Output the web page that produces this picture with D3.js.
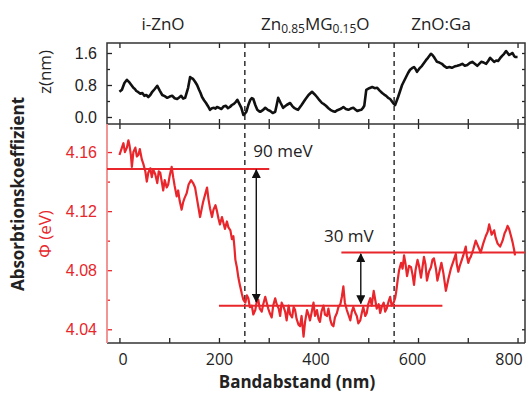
<!DOCTYPE html>
<html><head><meta charset="utf-8">
<script src="https://cdn.jsdelivr.net/npm/d3@7"></script>
<style>
html,body{margin:0;padding:0;background:#fff;}
svg{display:block;font-family:"Open Sans",sans-serif;}
</style></head>
<body>
<script>
// ---- data ----
// surface height z (nm) vs position (nm)
const topSeries = [[0,0.63],[5,0.68],[10,0.85],[15,0.93],[19,0.88],[22,0.83],[28,0.73],[31,0.70],[34,0.65],[38,0.62],[42,0.58],[46,0.60],[50,0.53],[54,0.55],[58,0.50],[62,0.55],[66,0.63],[71,0.70],[76,0.78],[81,0.66],[86,0.55],[91,0.52],[96,0.48],[101,0.51],[106,0.53],[111,0.47],[116,0.45],[120,0.49],[124,0.53],[128,0.46],[132,0.48],[138,0.73],[142,1.00],[145,0.97],[148,0.95],[152,0.88],[156,0.80],[160,0.68],[163,0.60],[166,0.50],[170,0.42],[174,0.35],[178,0.27],[182,0.18],[186,0.22],[190,0.23],[193,0.21],[196,0.25],[200,0.23],[205,0.20],[209,0.26],[214,0.28],[218,0.22],[222,0.25],[226,0.30],[230,0.33],[234,0.38],[237,0.43],[241,0.33],[245,0.23],[249,0.05],[252,0.08],[255,0.13],[259,0.30],[263,0.43],[266,0.47],[269,0.45],[273,0.30],[277,0.18],[280,0.15],[283,0.13],[288,0.17],[293,0.23],[298,0.18],[303,0.15],[308,0.10],[313,0.13],[316,0.30],[319,0.48],[324,0.35],[329,0.23],[336,0.30],[343,0.35],[347,0.28],[351,0.23],[355,0.20],[359,0.18],[366,0.30],[373,0.43],[380,0.55],[387,0.63],[392,0.57],[397,0.50],[402,0.42],[407,0.35],[411,0.32],[415,0.28],[420,0.22],[424,0.18],[428,0.15],[433,0.13],[438,0.17],[444,0.20],[447,0.22],[450,0.25],[455,0.20],[460,0.18],[465,0.21],[470,0.23],[474,0.19],[478,0.15],[482,0.17],[486,0.18],[489,0.22],[492,0.28],[496,0.68],[502,0.72],[508,0.75],[513,0.72],[518,0.73],[523,0.66],[528,0.60],[532,0.56],[536,0.53],[540,0.48],[544,0.45],[547,0.40],[550,0.35],[554,0.30],[557,0.40],[560,0.50],[564,0.65],[568,0.80],[572,0.90],[576,1.00],[580,1.10],[584,1.18],[588,1.22],[592,1.25],[595,1.20],[598,1.13],[601,1.18],[604,1.23],[608,1.28],[612,1.35],[616,1.42],[620,1.48],[623,1.53],[626,1.58],[629,1.55],[632,1.50],[635,1.44],[638,1.38],[643,1.36],[648,1.33],[653,1.27],[658,1.23],[663,1.25],[668,1.23],[673,1.26],[679,1.28],[684,1.30],[689,1.33],[694,1.28],[699,1.30],[704,1.35],[709,1.38],[714,1.33],[719,1.28],[723,1.33],[727,1.38],[732,1.36],[737,1.33],[741,1.40],[745,1.48],[749,1.43],[753,1.38],[757,1.41],[761,1.40],[765,1.47],[769,1.53],[773,1.58],[777,1.65],[780,1.60],[783,1.55],[787,1.58],[790,1.60],[793,1.53],[795,1.50],[800,1.50]];

// work function Phi (eV) vs position (nm)
const phiSeries = [[0,4.158],[4,4.162],[8,4.166],[11,4.160],[15,4.163],[18,4.168],[20,4.165],[23,4.158],[25,4.150],[28,4.160],[32,4.163],[35,4.157],[38,4.158],[41,4.162],[45,4.155],[48,4.152],[52,4.147],[55,4.140],[58,4.146],[62,4.149],[65,4.143],[68,4.148],[72,4.145],[76,4.139],[79,4.147],[82,4.146],[85,4.140],[88,4.134],[91,4.141],[95,4.136],[98,4.138],[101,4.144],[105,4.150],[108,4.143],[111,4.137],[115,4.130],[118,4.134],[121,4.127],[125,4.121],[128,4.126],[131,4.129],[135,4.132],[139,4.138],[144,4.141],[148,4.139],[152,4.136],[155,4.130],[158,4.124],[162,4.116],[165,4.121],[168,4.126],[172,4.131],[176,4.136],[179,4.128],[182,4.122],[186,4.116],[189,4.121],[193,4.124],[196,4.120],[199,4.115],[202,4.111],[206,4.116],[209,4.112],[212,4.108],[216,4.113],[219,4.109],[223,4.107],[226,4.101],[229,4.103],[231,4.096],[233,4.087],[236,4.082],[239,4.075],[242,4.070],[246,4.064],[249,4.060],
[253,4.058],[256,4.063],[259,4.061],[262,4.055],[266,4.056],[269,4.050],[273,4.053],[276,4.059],[279,4.060],[282,4.054],[286,4.052],[289,4.057],[293,4.062],[296,4.058],[299,4.054],[302,4.051],[306,4.048],[309,4.056],[313,4.061],[316,4.057],[320,4.054],[323,4.049],[326,4.058],[330,4.055],[333,4.052],[336,4.046],[340,4.056],[343,4.050],[347,4.048],[350,4.055],[353,4.053],[356,4.047],[360,4.043],[363,4.042],[366,4.049],[370,4.035],[373,4.045],[377,4.053],[380,4.050],[383,4.046],[386,4.051],[390,4.058],[393,4.049],[397,4.053],[400,4.047],[403,4.045],[406,4.052],[410,4.056],[413,4.050],[417,4.049],[420,4.054],[424,4.046],[427,4.043],[430,4.042],[433,4.048],[437,4.051],[440,4.055],[444,4.057],[447,4.062],[450,4.069],[453,4.058],[457,4.053],[460,4.050],[464,4.046],[467,4.052],[470,4.055],[474,4.051],[477,4.049],[480,4.044],[484,4.046],[487,4.051],[490,4.055],[494,4.049],[497,4.051],[500,4.057],[504,4.061],[507,4.056],[511,4.066],[514,4.060],[517,4.054],[521,4.057],[524,4.051],[527,4.055],[531,4.058],[534,4.052],[537,4.054],[541,4.059],[544,4.062],[547,4.056],[551,4.058],[554,4.061],[556,4.065],
[559,4.073],[562,4.080],[566,4.085],[569,4.081],[572,4.090],[575,4.084],[578,4.076],[582,4.083],[586,4.082],[589,4.077],[592,4.070],[595,4.080],[599,4.087],[602,4.083],[606,4.075],[609,4.082],[612,4.089],[615,4.084],[618,4.073],[622,4.079],[626,4.082],[629,4.087],[632,4.088],[636,4.081],[639,4.073],[643,4.079],[647,4.085],[651,4.078],[656,4.066],[661,4.074],[666,4.081],[671,4.086],[676,4.091],[678,4.084],[681,4.079],[684,4.083],[686,4.085],[691,4.090],[696,4.096],[698,4.090],[701,4.085],[704,4.088],[706,4.089],[711,4.094],[716,4.100],[721,4.096],[726,4.092],[731,4.098],[736,4.103],[740,4.106],[743,4.111],[748,4.104],[753,4.107],[756,4.102],[760,4.098],[765,4.096],[770,4.100],[774,4.105],[777,4.107],[780,4.110],[783,4.108],[787,4.103],[790,4.099],[793,4.094],[795,4.090]];

const xTicks = [0,100,200,300,400,500,600,700,800];
const xLabels = [0,200,400,600,800];
const zTicks = [0,0.4,0.8,1.2,1.6];
const zLabels = ["0.0","0.8","1.6"];
const phiTicks = [4.04,4.06,4.08,4.10,4.12,4.14,4.16];
const phiLabels = ["4.04","4.08","4.12","4.16"];
const boundaries = [252,552];
const levels = [ {y:4.1485,x0:-25,x1:301}, {y:4.056,x0:200,x1:649}, {y:4.092,x0:446,x1:815} ];
const arrows = [ {x:275,y0:4.148,y1:4.0585,label:"90 meV"}, {x:485,y0:4.091,y1:4.0575,label:"30 mV"} ];

// ---- drawing ----
const W=528,H=395;
const L=107,R=525,T1=43,B1=124,B2=343;
const svg=d3.select("body").append("svg").attr("width",W).attr("height",H);
const x=d3.scaleLinear().domain([-25,815]).range([L,R]);
const xl=d3.scaleLinear().domain([0,800]).range([123,509]); // label placement as in reference
const yZ=d3.scaleLinear().domain([-0.175,1.85]).range([B1,T1]);
const yP=d3.scaleLinear().domain([4.0307,4.179]).range([B2,B1]);
const RED="#e8262b";
const FS=16;

const gx1t=svg.append("g").attr("transform",`translate(0,${T1})`).call(d3.axisTop(x).tickValues(xTicks).tickSize(-5).tickFormat(""));
const gx1b=svg.append("g").attr("transform",`translate(0,${B1})`).call(d3.axisBottom(x).tickValues(xTicks).tickSize(-5).tickFormat(""));
const gx2t=svg.append("g").attr("transform",`translate(0,${B1})`).call(d3.axisTop(x).tickValues(xTicks).tickSize(-5).tickFormat(""));
const gx2b=svg.append("g").attr("transform",`translate(0,${B2})`).call(d3.axisBottom(x).tickValues(xTicks).tickSize(-5).tickFormat(""));
const gzL=svg.append("g").attr("transform",`translate(${L},0)`).call(d3.axisLeft(yZ).tickValues(zTicks).tickSize(-5).tickPadding(10).tickFormat(d=>{const s=d.toFixed(1);return zLabels.includes(s)?s:"";}));
const gzR=svg.append("g").attr("transform",`translate(${R},0)`).call(d3.axisRight(yZ).tickValues(zTicks).tickSize(-5).tickFormat(""));
const gpL=svg.append("g").attr("transform",`translate(${L},0)`).call(d3.axisLeft(yP).tickValues(phiTicks).tickSize(-5).tickPadding(10).tickFormat(d=>{const s=d.toFixed(2);return phiLabels.includes(s)?s:"";}));
const gpR=svg.append("g").attr("transform",`translate(${R},0)`).call(d3.axisRight(yP).tickValues(phiTicks).tickSize(-5).tickFormat(""));

[gx1t,gx1b,gx2t,gx2b,gzL,gzR,gpR].forEach(g=>{
  g.selectAll("path.domain").remove();
  g.selectAll(".tick line").attr("stroke","#222").attr("stroke-width",1.3);
  g.selectAll("text").attr("fill","#222").style("font-size",FS+"px");
});
gpL.selectAll("path.domain").remove();
gpL.selectAll(".tick line").attr("stroke",RED).attr("stroke-width",1.3);
gpL.selectAll("text").attr("fill",RED).style("font-size",FS+"px");
[gzL,gzR,gpL,gpR].forEach(g=>{
  g.selectAll(".tick").each(function(){
    const t=d3.select(this).select("text").text();
    const ln=d3.select(this).select("line");
    if(t==="") ln.attr("x2",(+ln.attr("x2"))*0.6);
  });
});

// x tick labels
svg.append("g").selectAll("text").data(xLabels).join("text")
  .attr("x",d=>xl(d)).attr("y",365).attr("text-anchor","middle").attr("fill","#222").style("font-size",FS+"px").text(d=>d);

// frames
svg.append("rect").attr("x",L).attr("y",T1).attr("width",R-L).attr("height",B1-T1).attr("fill","none").attr("stroke","#333").attr("stroke-width",1.5);
svg.append("line").attr("x1",L).attr("x2",R).attr("y1",B2).attr("y2",B2).attr("stroke","#333").attr("stroke-width",1.5);
svg.append("line").attr("x1",R).attr("x2",R).attr("y1",B1).attr("y2",B2).attr("stroke","#333").attr("stroke-width",1.5);
svg.append("line").attr("x1",L).attr("x2",L).attr("y1",B1).attr("y2",B2).attr("stroke","#f08a8a").attr("stroke-width",1.8);

// dashed boundaries
boundaries.forEach(b=>{
  svg.append("line").attr("x1",x(b)).attr("x2",x(b)).attr("y1",T1).attr("y2",B2)
    .attr("stroke","#222").attr("stroke-width",1.4).attr("stroke-dasharray","5,4");
});

// top curve
svg.append("path").datum(topSeries).attr("fill","none").attr("stroke","#111").attr("stroke-width",2.6).attr("stroke-linejoin","round")
  .attr("d",d3.line().x(d=>x(d[0])).y(d=>yZ(d[1])));

// level lines
levels.forEach(l=>{
  svg.append("line").attr("x1",x(l.x0)).attr("x2",x(l.x1)).attr("y1",yP(l.y)).attr("y2",yP(l.y))
    .attr("stroke",RED).attr("stroke-width",2);
});

// red curve
svg.append("path").datum(phiSeries).attr("fill","none").attr("stroke",RED).attr("stroke-width",2.2).attr("stroke-linejoin","round")
  .attr("d",d3.line().x(d=>x(d[0])).y(d=>yP(d[1])));

// arrows
const defs=svg.append("defs");
defs.append("marker").attr("id","ah").attr("viewBox","0 0 10 10").attr("refX",9).attr("refY",5)
  .attr("markerWidth",9).attr("markerHeight",9).attr("markerUnits","userSpaceOnUse").attr("orient","auto-start-reverse")
  .append("path").attr("d","M0,0L10,5L0,10z").attr("fill","#111");
arrows.forEach(a=>{
  svg.append("line").attr("x1",x(a.x)).attr("x2",x(a.x)).attr("y1",yP(a.y0)).attr("y2",yP(a.y1))
    .attr("stroke","#111").attr("stroke-width",1.4).attr("marker-start","url(#ah)").attr("marker-end","url(#ah)");
});
svg.append("text").attr("x",x(arrows[0].x)-3).attr("y",157).text(arrows[0].label).attr("fill","#222").style("font-size","17px");
svg.append("text").attr("x",324).attr("y",242).text(arrows[1].label).attr("fill","#222").style("font-size","17px");

// region titles
svg.append("text").attr("x",163).attr("y",30).attr("text-anchor","middle").text("i-ZnO").attr("fill","#222").style("font-size","17px");
const t2=svg.append("text").attr("x",261).attr("y",30).attr("fill","#222").style("font-size","17px");
t2.append("tspan").text("Zn");
t2.append("tspan").text("0.85").style("font-size","12px").attr("dy",3);
t2.append("tspan").text("MG").attr("dy",-3);
t2.append("tspan").text("0.15").style("font-size","12px").attr("dy",3);
t2.append("tspan").text("O").attr("dy",-3);
svg.append("text").attr("x",441).attr("y",30).attr("text-anchor","middle").text("ZnO:Ga").attr("fill","#222").style("font-size","17px");

// axis titles
svg.append("text").attr("transform","translate(51,72) rotate(-90)").attr("text-anchor","middle").text("z(nm)").attr("fill","#222").style("font-size","17px");
svg.append("text").attr("transform","translate(51,234) rotate(-90)").attr("text-anchor","middle").text("Φ (eV)").attr("fill",RED).style("font-size","17px");
svg.append("text").attr("transform","translate(24,194) rotate(-90)").attr("text-anchor","middle").text("Absorbtionskoeffizient").attr("fill","#222").style("font-size","17px").style("font-weight","bold");
svg.append("text").attr("x",297).attr("y",388).attr("text-anchor","middle").text("Bandabstand (nm)").attr("fill","#222").style("font-size","17px").style("font-weight","bold");
</script>
</body></html>
